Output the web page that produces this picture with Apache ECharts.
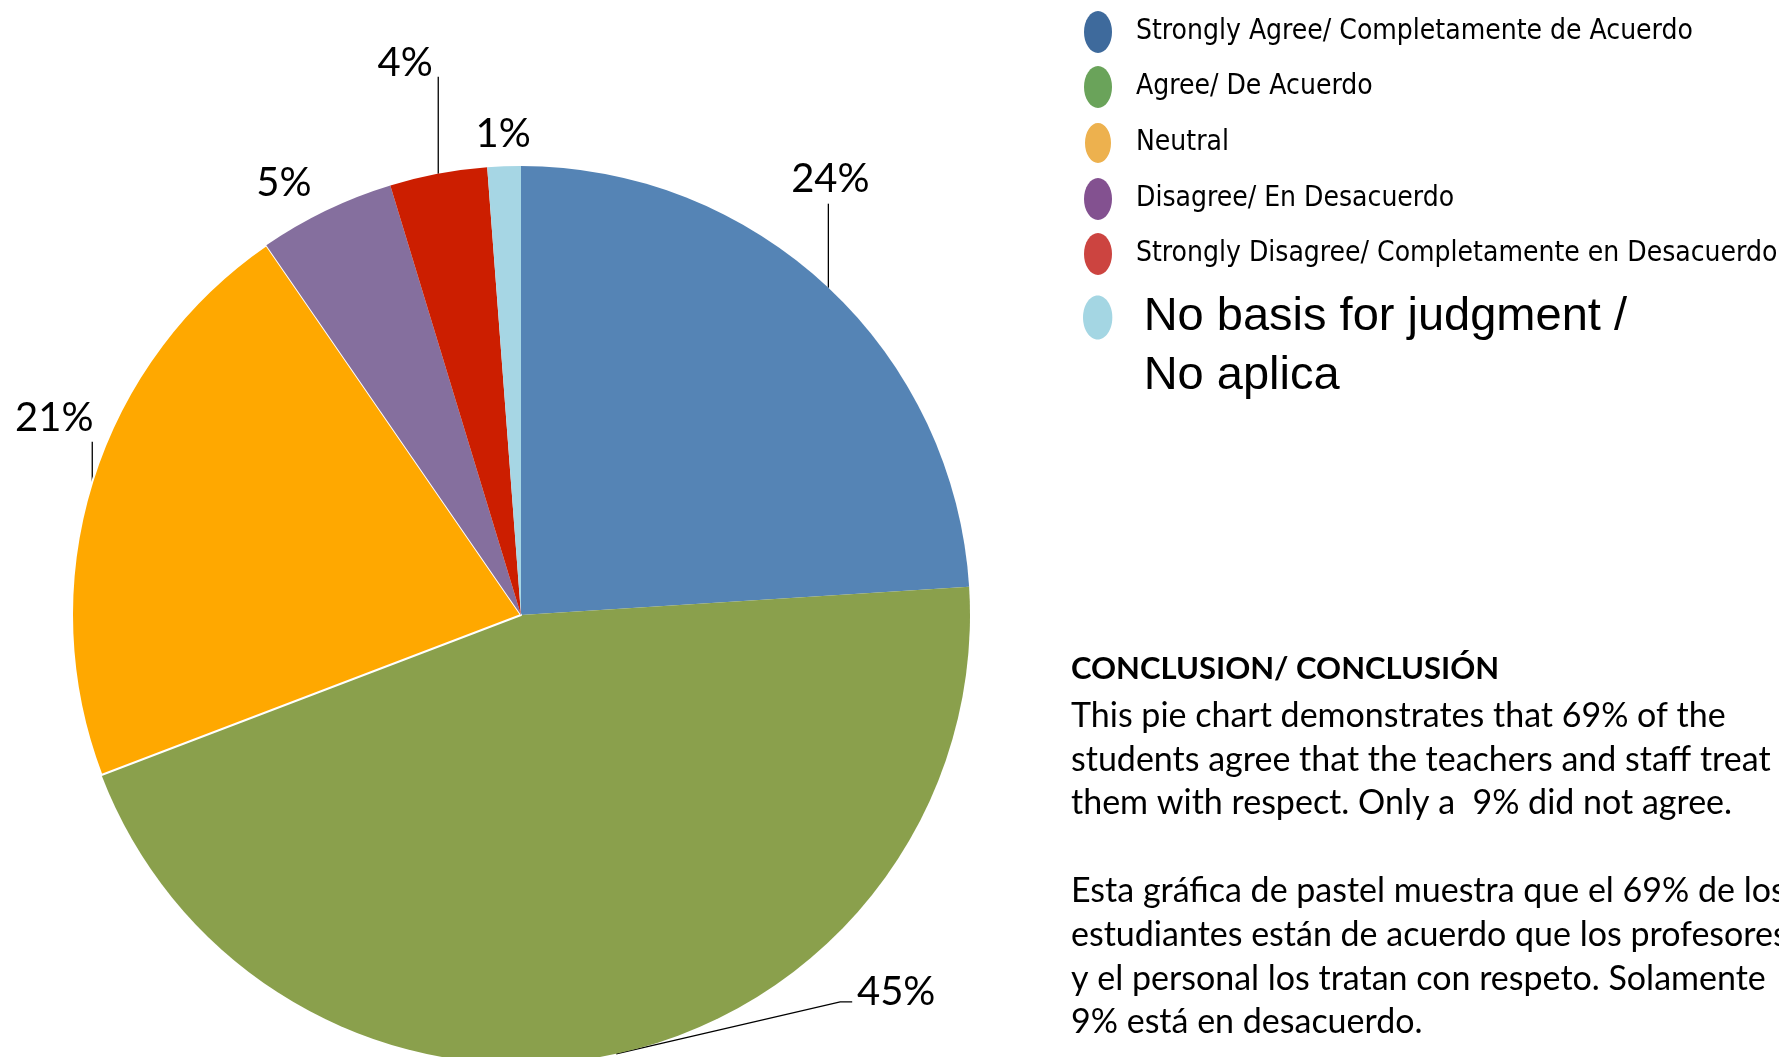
<!DOCTYPE html>
<html><head><meta charset="utf-8">
<script src="https://cdn.jsdelivr.net/npm/echarts@6/dist/echarts.min.js"></script>
<style>html,body{margin:0;padding:0;background:#fff}#chart{width:1779px;height:1057px}</style>
</head><body><div id="chart"></div>
<script>
// ---- data ----
const categories = [
  'Strongly Agree/ Completamente de Acuerdo',
  'Agree/ De Acuerdo',
  'Neutral',
  'Disagree/ En Desacuerdo',
  'Strongly Disagree/ Completamente en Desacuerdo',
  'No basis for judgment / No aplica'
];
const shares = [24.0, 45.2, 21.2, 4.9, 3.5, 1.2];
const conclusionTitle = 'CONCLUSION/ CONCLUSIÓN';
const conclusionLines = [
  'This pie chart demonstrates that 69% of the',
  'students agree that the teachers and staff treat',
  'them with respect. Only a  9% did not agree.',
  '',
  'Esta gráfica de pastel muestra que el 69% de los',
  'estudiantes están de acuerdo que los profesores',
  'y el personal los tratan con respeto. Solamente',
  '9% está en desacuerdo.'
];

// ---- styles ----
const sliceColors = ['#5584B5', '#8AA04C', '#FFA800', '#856F9E', '#CC1E00', '#A6D6E4'];
const legendColors = ['#3E6A9C', '#6AA35A', '#EDB14E', '#835190', '#CC4440', '#A4D6E3'];
const ellipseIcon = 'path://M10,0 C15.52,0 20,6.72 20,15 C20,23.28 15.52,30 10,30 C4.48,30 0,23.28 0,15 C0,6.72 4.48,0 10,0 Z';
// label placement relative to each slice's outer edge point (pixels)
const labelPlacement = [
  {dx: 2, dy: -109, line: [[0, -84]]},
  {dx: 280, dy: -62, line: [[224, -52], [236, -52]]},
  {dx: -38, dy: -64, line: [[0, -40]]},
  {dx: -42, dy: -27, line: []},
  {dx: -33, dy: -111, line: [[0, -97]]},
  {dx: -1, dy: -32, line: []}
];

const chart = echarts.init(document.getElementById('chart'), null, {renderer: 'canvas'});
const bodyFont = "Lato, 'Open Sans', sans-serif";

const option = {
  backgroundColor: '#ffffff',
  animation: false,
  title: [
    {text: conclusionTitle, left: 1071, top: 647, padding: 0,
     textStyle: {fontFamily: bodyFont, fontWeight: 'bold', fontSize: 31, lineHeight: 44, color: '#000'}},
    {text: conclusionLines.join('\n'), left: 1071, top: 694, padding: 0,
     textStyle: {fontFamily: bodyFont, fontWeight: 'normal', fontSize: 34, lineHeight: 43.8, color: '#000'}}
  ],
  legend: [
    {
      orient: 'vertical', left: 1083, top: 11, padding: 0,
      itemWidth: 28, itemHeight: 42, itemGap: 13, icon: ellipseIcon,
      selectedMode: false,
      data: categories.slice(0, 5).map((n, i) => ({name: n, itemStyle: {color: legendColors[i]}})),
      textStyle: {fontFamily: "'DejaVu Sans Condensed', 'Liberation Sans Narrow', sans-serif",
                  fontSize: 28, lineHeight: 40, color: '#000', padding: [0, 0, 0, 19]}
    },
    {
      orient: 'vertical', left: 1083, top: 229, padding: 0,
      itemWidth: 30, itemHeight: 44, icon: ellipseIcon,
      selectedMode: false,
      data: [{name: categories[5], itemStyle: {color: legendColors[5]}}],
      formatter: n => '\n' + n.replace(' / ', ' /\n'),
      textStyle: {fontFamily: "'Liberation Sans', Arial, sans-serif",
                  fontSize: 47, lineHeight: 59, color: '#000', padding: [0, 0, 0, 26]}
    }
  ],
  series: [{
    type: 'pie',
    center: [521, 615],
    radius: 449,
    startAngle: 90,
    clockwise: true,
    avoidLabelOverlap: false,
    percentPrecision: 0,
    data: categories.map((n, i) => ({
      name: n, value: shares[i],
      itemStyle: i === 2 ? {color: sliceColors[i], borderColor: '#fff', borderWidth: 2}
                         : {color: sliceColors[i], borderWidth: 0}
    })),
    label: {
      show: true, position: 'outside', formatter: '{d}%',
      fontFamily: bodyFont, fontSize: 40, color: '#000'
    },
    labelLine: {show: true, length: 20, length2: 10, smooth: false,
                lineStyle: {color: '#000', width: 1.3}},
    labelLayout: function (params) {
      const pts = params.labelLinePoints;
      if (!pts || !pts[0]) return {};
      const p0 = pts[0];
      const cfg = labelPlacement[params.dataIndex];
      let linePts = [p0].concat(cfg.line.map(o => [p0[0] + o[0], p0[1] + o[1]]));
      if (linePts.length < 2) linePts = [p0, p0.slice(), p0.slice()];
      if (linePts.length < 3) linePts.push(linePts[linePts.length - 1].slice());
      return {
        x: p0[0] + cfg.dx, y: p0[1] + cfg.dy,
        align: 'center', verticalAlign: 'middle',
        labelLinePoints: linePts
      };
    },
    emphasis: {disabled: true}
  }]
};
chart.setOption(option);
</script>
</body></html>
